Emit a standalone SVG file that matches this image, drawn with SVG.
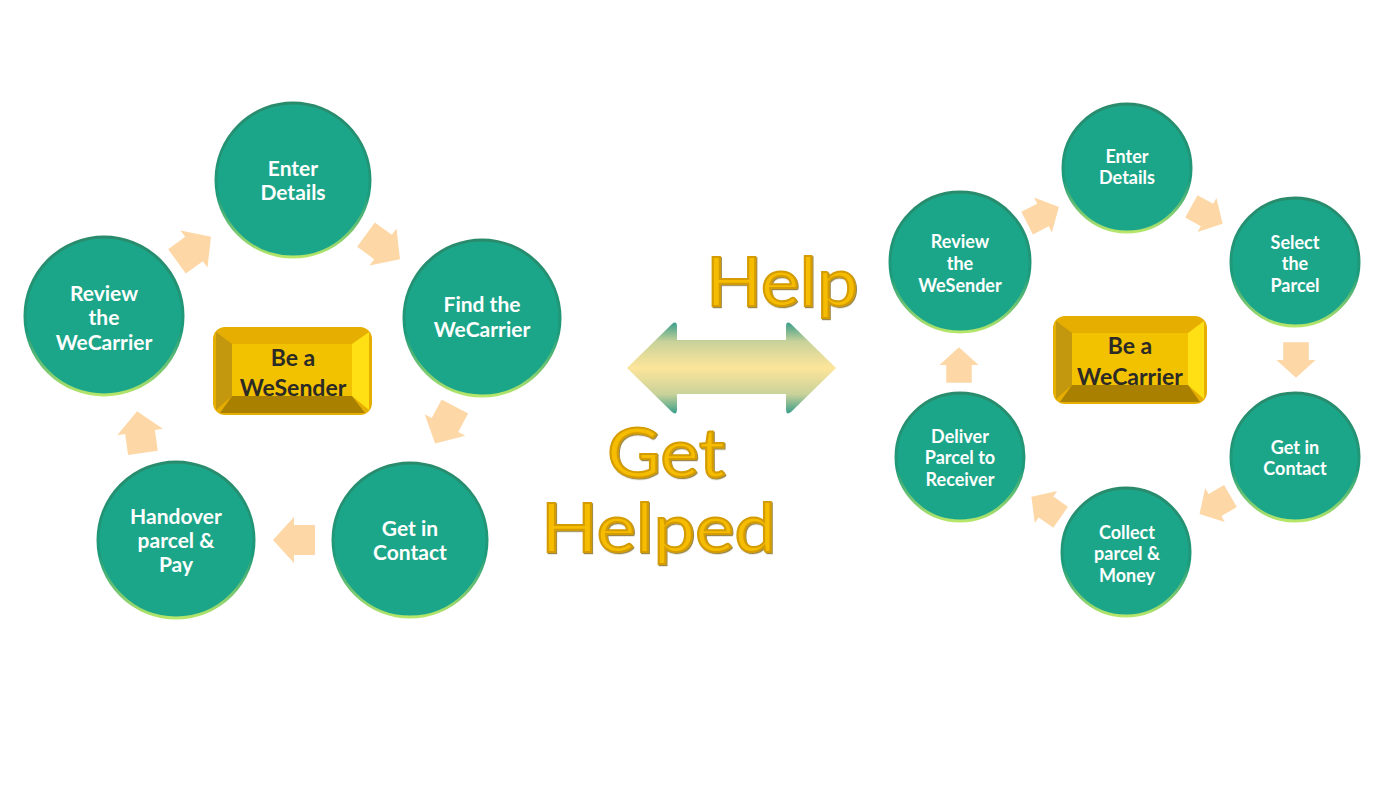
<svg xmlns="http://www.w3.org/2000/svg" width="1399" height="787" viewBox="0 0 1399 787">
<defs>
<style>
.c{fill:#1aa689;stroke:url(#edge);stroke-width:3;filter:url(#soft)}
.t{font-family:Lato,"Liberation Sans",sans-serif;font-weight:700;fill:#ffffff;text-anchor:middle}
.tl{font-size:21px}
.tr{font-size:18px}
.bt{font-family:Lato,"Liberation Sans",sans-serif;font-weight:700;fill:#2b2a26;text-anchor:middle;font-size:23px}
.arr{fill:#fdd7a6}
.big{font-family:Lato,"Liberation Sans",sans-serif;font-weight:400;fill:#f6bd00;stroke:#d49c00;stroke-width:2;font-size:68px;filter:url(#sh)}
.face{fill:#f2c100}
.bleft{fill:#c3970e}
.bbot{fill:#a98000}
.bright{fill:#ffe014}
</style>
<linearGradient id="edge" x1="0" y1="0" x2="0" y2="1">
<stop offset="0" stop-color="#2a8a6c"/>
<stop offset="0.6" stop-color="#1e9b7b"/>
<stop offset="1" stop-color="#b6e66a"/>
</linearGradient>
<linearGradient id="dbl" x1="0" y1="321" x2="0" y2="415" gradientUnits="userSpaceOnUse">
<stop offset="0" stop-color="#2f9a88"/>
<stop offset="0.22" stop-color="#c9d29a"/>
<stop offset="0.5" stop-color="#fde59a"/>
<stop offset="0.78" stop-color="#c9d29a"/>
<stop offset="1" stop-color="#2f9a88"/>
</linearGradient>
<filter id="soft" x="-5%" y="-5%" width="110%" height="110%"><feGaussianBlur stdDeviation="0.7"/></filter>
<filter id="sh" x="-5%" y="-5%" width="115%" height="120%">
<feDropShadow dx="1" dy="1.2" stdDeviation="0.5" flood-color="#6e5400" flood-opacity="0.7"/>
</filter>
<path id="ba" d="M-21,-15 L0,-15 L0,-23 L21,0 L0,23 L0,15 L-21,15 Z"/>
</defs>
<rect width="1399" height="787" fill="#ffffff"/>

<g id="connectors">
<use href="#ba" class="arr" transform="translate(194,249) rotate(-36)"/>
<use href="#ba" class="arr" transform="translate(383,247) rotate(36)"/>
<use href="#ba" class="arr" transform="translate(445,425) rotate(118)"/>
<use href="#ba" class="arr" transform="translate(294,540) rotate(180)"/>
<use href="#ba" class="arr" transform="translate(140,432) rotate(-98)"/>
<use href="#ba" class="arr" transform="translate(1043,215) rotate(-27) scale(0.85)"/>
<use href="#ba" class="arr" transform="translate(1207,215) rotate(29) scale(0.85)"/>
<use href="#ba" class="arr" transform="translate(1296,360) rotate(90) scale(0.85)"/>
<use href="#ba" class="arr" transform="translate(1215,505) rotate(150) scale(0.85)"/>
<use href="#ba" class="arr" transform="translate(1046,507) rotate(-145) scale(0.85)"/>
<use href="#ba" class="arr" transform="translate(959,365) rotate(-90) scale(0.85)"/>
<path id="double-arrow" d="M627,368 L672,324 Q677,320 677,327 L677,340 L786,340 L786,327 Q786,320 791,324 L836,368 L791,412 Q786,416 786,409 L786,394 L677,394 L677,409 Q677,416 672,412 Z" fill="url(#dbl)"/>
</g>

<g id="labels-center">
<text class="big" x="706" y="306" textLength="152" lengthAdjust="spacingAndGlyphs">Help</text>
<text class="big" x="607" y="477" textLength="118" lengthAdjust="spacingAndGlyphs">Get</text>
<text class="big" x="541" y="552" textLength="235" lengthAdjust="spacingAndGlyphs">Helped</text>
</g>

<g id="sender-box">
<rect x="213" y="327" width="159" height="88" rx="12" fill="#e6ae00"/>
<polygon class="bleft" points="216,332 232,344 232,396 216,410"/>
<polygon class="bright" points="369,332 352,344 352,396 369,410"/>
<polygon class="bbot" points="220,413 232,396 352,396 365,413"/>
<rect class="face" x="232" y="344" width="120" height="52"/>
<text class="bt" x="293" y="366">Be a</text>
<text class="bt" x="293" y="396">WeSender</text>
</g>

<g id="carrier-box">
<rect x="1053" y="316" width="154" height="88" rx="12" fill="#e6ae00"/>
<polygon class="bleft" points="1056,321 1072,333 1072,385 1056,399"/>
<polygon class="bright" points="1204,321 1188,333 1188,385 1204,399"/>
<polygon class="bbot" points="1060,402 1072,385 1188,385 1200,402"/>
<rect class="face" x="1072" y="333" width="116" height="52"/>
<text class="bt" x="1130" y="354">Be a</text>
<text class="bt" x="1130" y="385">WeCarrier</text>
</g>

<g id="l-enter"><circle class="c" cx="293" cy="180" r="77"/><text class="t tl" x="293" y="176">Enter</text><text class="t tl" x="293" y="200">Details</text></g>
<g id="l-find"><circle class="c" cx="482" cy="318" r="78"/><text class="t tl" x="482" y="312">Find the</text><text class="t tl" x="482" y="337">WeCarrier</text></g>
<g id="l-contact"><circle class="c" cx="410" cy="540" r="77"/><text class="t tl" x="410" y="536">Get in</text><text class="t tl" x="410" y="560">Contact</text></g>
<g id="l-handover"><circle class="c" cx="176" cy="540" r="78"/><text class="t tl" x="176" y="524">Handover</text><text class="t tl" x="176" y="548">parcel &amp;</text><text class="t tl" x="176" y="572">Pay</text></g>
<g id="l-review"><circle class="c" cx="104" cy="316" r="79"/><text class="t tl" x="104" y="301">Review</text><text class="t tl" x="104" y="325">the</text><text class="t tl" x="104" y="350">WeCarrier</text></g>

<g id="r-enter"><circle class="c" cx="1127" cy="168" r="64"/><text class="t tr" x="1127" y="163">Enter</text><text class="t tr" x="1127" y="184">Details</text></g>
<g id="r-select"><circle class="c" cx="1295" cy="262" r="64"/><text class="t tr" x="1295" y="249">Select</text><text class="t tr" x="1295" y="270">the</text><text class="t tr" x="1295" y="292">Parcel</text></g>
<g id="r-contact"><circle class="c" cx="1295" cy="457" r="64"/><text class="t tr" x="1295" y="454">Get in</text><text class="t tr" x="1295" y="475">Contact</text></g>
<g id="r-collect"><circle class="c" cx="1126" cy="552" r="64"/><text class="t tr" x="1127" y="539">Collect</text><text class="t tr" x="1127" y="560">parcel &amp;</text><text class="t tr" x="1127" y="582">Money</text></g>
<g id="r-deliver"><circle class="c" cx="960" cy="457" r="64"/><text class="t tr" x="960" y="443">Deliver</text><text class="t tr" x="960" y="464">Parcel to</text><text class="t tr" x="960" y="486">Receiver</text></g>
<g id="r-review"><circle class="c" cx="960" cy="262" r="70"/><text class="t tr" x="960" y="248">Review</text><text class="t tr" x="960" y="270">the</text><text class="t tr" x="960" y="292">WeSender</text></g>
</svg>
